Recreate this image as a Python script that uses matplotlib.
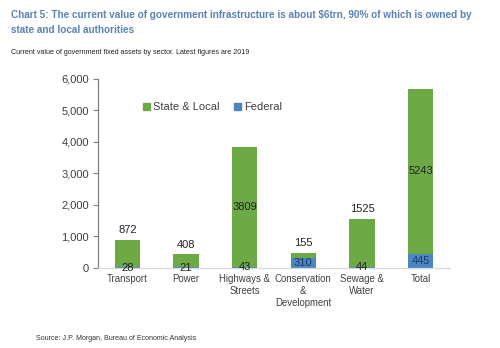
import matplotlib
matplotlib.use("Agg")
import matplotlib.pyplot as plt
from matplotlib.patches import Patch

plt.rcParams['font.family'] = ['Liberation Sans', 'DejaVu Sans']

categories = ["Transport", "Power", "Highways &\nStreets", "Conservation\n&\nDevelopment",
              "Sewage &\nWater", "Total"]
federal = [28, 21, 43, 310, 44, 445]
state_local = [872, 408, 3809, 155, 1525, 5243]
yticks = [0, 1000, 2000, 3000, 4000, 5000, 6000]

GREEN = "#6DAA45"
BLUE = "#4A86C4"
TITLE = "#5B82B5"
TEXT = "#404040"

fig = plt.figure(figsize=(5.0, 3.48), dpi=100)
ax = fig.add_axes([0.196, 0.2299, 0.704, 0.5431])

x = list(range(len(categories)))
width = 0.43
ax.bar(x, federal, width, color=BLUE, label="Federal", zorder=2)
ax.bar(x, state_local, width, bottom=federal, color=GREEN, label="State & Local", zorder=2)

for i, (f, s) in enumerate(zip(federal, state_local)):
    fcol = "#1F3B66" if f > 200 else "#222222"
    ax.text(i, f / 2, f"{f}", ha="center", va="center", fontsize=8, color=fcol, zorder=3)
    if s > 2000:
        ax.text(i, f + s / 2, f"{s}", ha="center", va="center", fontsize=8,
                color="#222222", zorder=3)
    else:
        ax.annotate(f"{s}", (i, f + s), xytext=(0, 3.5), textcoords="offset points",
                    ha="center", va="bottom", fontsize=8, color="#222222", zorder=3)

ax.set_xlim(-0.5, len(categories) - 0.5)
ax.set_ylim(0, 6000)
ax.set_yticks(yticks)
ax.set_yticklabels([f"{v:,}" for v in yticks], fontsize=8, color=TEXT)
ax.set_xticks(x)
ax.set_xticklabels(categories, fontsize=6.9, color=TEXT, linespacing=1.25)
ax.tick_params(axis="x", length=0, pad=4)
ax.tick_params(axis="y", length=3.5, width=0.8, color="#808080", pad=3)
for side in ("top", "right"):
    ax.spines[side].set_visible(False)
ax.spines["left"].set_color("#808080")
ax.spines["left"].set_linewidth(0.9)
ax.spines["bottom"].set_color("#D9D9D9")
ax.spines["bottom"].set_linewidth(0.9)

handles = [Patch(color=GREEN, label="State & Local"), Patch(color=BLUE, label="Federal")]
fig.legend(handles=handles, loc="center left", bbox_to_anchor=(0.286, 1 - 107 / 348),
           frameon=False, fontsize=8.0, handlelength=0.6, handleheight=0.6,
           handletextpad=0.3, columnspacing=1.3, ncol=2, borderaxespad=0, borderpad=0)
for t in fig.legends[0].get_texts():
    t.set_color(TEXT)

fig.text(0.022, 1 - 15 / 348,
         "Chart 5: The current value of government infrastructure is about $6trn, 90% of which is owned by",
         fontsize=7.18, fontweight="bold", color=TITLE, va="center")
fig.text(0.022, 1 - 30 / 348, "state and local authorities",
         fontsize=7.18, fontweight="bold", color=TITLE, va="center")
fig.text(0.022, 1 - 52 / 348,
         "Current value of government fixed assets by sector. Latest figures are 2019",
         fontsize=5.1, color="#222222", va="center")
fig.text(0.072, 1 - 339 / 348, "Source: J.P. Morgan, Bureau of Economic Analysis",
         fontsize=5.1, color="#333333", va="center")

fig.savefig("out.png", dpi=100)
